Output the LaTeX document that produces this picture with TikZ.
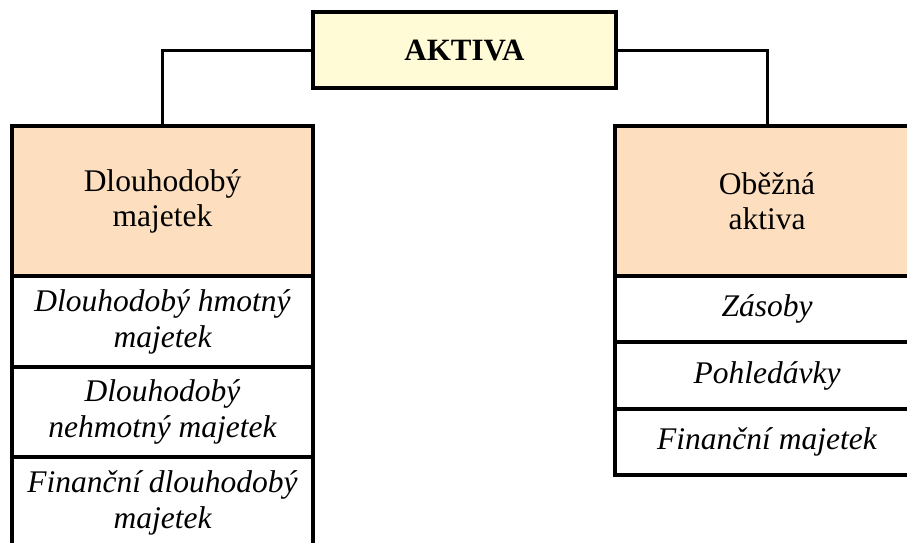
\documentclass[tikz,border=0pt]{standalone}
\usepackage{fontspec}
\setmainfont{Liberation Serif}
\definecolor{topfill}{RGB}{255,251,214}
\definecolor{headfill}{RGB}{253,223,191}
\tikzset{
  cell/.style={draw=black, line width=3.2pt, rectangle, inner sep=0pt, outer sep=0pt,
    align=center, font=\fontsize{31.5}{35}\selectfont, text=black},
  topbox/.style={cell, fill=topfill, minimum width=303pt, minimum height=76pt, font=\fontsize{31}{35}\selectfont\bfseries},
  headbox/.style={cell, fill=headfill, minimum height=150pt},
  itembox/.style={cell, fill=white, font=\fontsize{31.5}{36}\selectfont\itshape},
  conn/.style={draw=black, line width=3pt}
}
\begin{document}
\begin{tikzpicture}[x=1pt,y=-1pt]
\clip (0,0) rectangle (907,542);
\fill[white] (0,0) rectangle (907,542);
% top
\node[topbox] (top) at (464.5,50) {AKTIVA};
% left column
\node[headbox, minimum width=301pt] (lh) at (162.5,201) {Dlouhodobý\\majetek};
\node[itembox, minimum width=301pt, minimum height=91pt] (l1) at (162.5,321.5) {Dlouhodobý hmotný\\majetek};
\node[itembox, minimum width=301pt, minimum height=90pt] (l2) at (162.5,412) {Dlouhodobý\\nehmotný majetek};
\node[itembox, minimum width=301pt, minimum height=91pt] (l3) at (162.5,502.5) {Finanční dlouhodobý\\majetek};
% right column
\node[headbox, minimum width=304pt] (rh) at (767,201) {Oběžná\\aktiva};
\node[itembox, minimum width=304pt, minimum height=66pt] (r1) at (767,309) {Zásoby};
\node[itembox, minimum width=304pt, minimum height=67pt] (r2) at (767,375.5) {Pohledávky};
\node[itembox, minimum width=304pt, minimum height=66pt] (r3) at (767,442) {Finanční majetek};
% connectors
\draw[conn] (top.west) -| (lh.north);
\draw[conn] (top.east) -| (rh.north);
\end{tikzpicture}
\end{document}
